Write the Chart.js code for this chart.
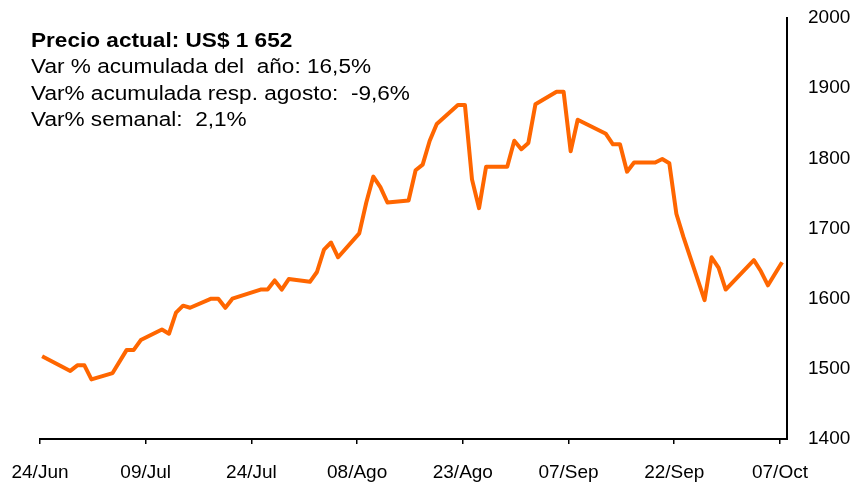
<!DOCTYPE html>
<html>
<head>
<meta charset="utf-8">
<script src="https://cdn.jsdelivr.net/npm/chart.js@4"></script>
<style>
  body { margin: 0; background: #fff; }
  #wrap { width: 855px; height: 485px; }
</style>
</head>
<body>
<div id="wrap"><canvas id="chart" width="855" height="485"></canvas></div>
<script>
// days counted from 24/Jun, gold price in US$
const days = [0, 4, 5, 6, 7, 10, 12, 13, 14, 17, 18, 19, 20, 21, 24, 25, 26, 27, 31, 32, 33, 34, 35,
    38, 39, 40, 41, 42, 45, 46, 47, 48, 49, 52, 53, 54, 55, 56, 59, 60, 61, 62, 63, 66, 67, 68, 69, 70,
    73, 74, 75, 76, 80, 81, 82, 83, 84, 87, 88, 89, 90, 91, 94, 95, 96, 97, 101, 102, 103, 105];
const prices = [1518, 1497, 1505, 1505, 1485, 1494, 1527, 1527, 1541, 1556, 1550, 1580, 1590, 1587, 1600, 1600, 1587, 1600, 1613, 1613, 1626, 1613, 1628,
    1624, 1638, 1670, 1680, 1659, 1693, 1737, 1774, 1759, 1737, 1740, 1783, 1791, 1825, 1849, 1876, 1876, 1770, 1729, 1788, 1788, 1825, 1813, 1822, 1877,
    1895, 1895, 1810, 1855, 1835, 1820, 1820, 1781, 1794, 1794, 1799, 1793, 1721, 1688, 1598, 1659, 1644, 1613, 1655, 1639, 1619, 1652];

const tickDays = [0, 15, 30, 45, 60, 75, 90, 105];
const tickLabels = ['24/Jun', '09/Jul', '24/Jul', '08/Ago', '23/Ago', '07/Sep', '22/Sep', '07/Oct'];

const infoLines = [
    'Precio actual: US$ 1 652',
    'Var % acumulada del  año: 16,5%',
    'Var% acumulada resp. agosto:  -9,6%',
    'Var% semanal:  2,1%'
];

const FONT = '"Liberation Sans", Arial, Helvetica, sans-serif';

const infoPlugin = {
    id: 'info',
    afterDraw(chart) {
        const ctx = chart.ctx;
        ctx.save();
        ctx.fillStyle = '#000';
        ctx.textBaseline = 'alphabetic';
        infoLines.forEach((t, i) => {
            ctx.save();
            ctx.translate(31, 47 + i * 26.3);
            ctx.scale(1.13, 1);
            ctx.font = (i === 0 ? 'bold 20px ' : '20px ') + FONT;
            ctx.fillText(t, 0, 0);
            ctx.restore();
        });
        ctx.restore();
    }
};

new Chart(document.getElementById('chart'), {
    type: 'line',
    data: {
        datasets: [{
            data: days.map((d, i) => ({x: d + 0.3, y: prices[i]})),
            borderColor: '#FF6600',
            borderWidth: 4,
            borderJoinStyle: 'round',
            pointRadius: 0,
            tension: 0,
            fill: false
        }]
    },
    options: {
        responsive: false,
        animation: false,
        layout: {padding: {left: 40, top: 18, right: 0, bottom: 0}},
        plugins: {
            legend: {display: false},
            tooltip: {enabled: false}
        },
        scales: {
            x: {
                type: 'linear',
                min: 0,
                max: 106,
                afterBuildTicks: (scale) => {
                    scale.ticks = tickDays.map(v => ({value: v}));
                },
                afterFit: (scale) => {
                    scale.height = 46;
                    scale.paddingLeft = 0;
                    scale.paddingRight = 0;
                },
                ticks: {
                    autoSkip: false,
                    maxRotation: 0,
                    padding: 17,
                    color: '#000',
                    font: {family: FONT, size: 19},
                    callback: (value, index) => tickLabels[index]
                },
                grid: {
                    display: true,
                    drawOnChartArea: false,
                    drawTicks: true,
                    tickLength: 5,
                    color: '#000',
                    lineWidth: 1.5
                },
                border: {display: true, color: '#000', width: 2}
            },
            y: {
                position: 'right',
                min: 1400,
                max: 2000,
                afterFit: (scale) => {
                    scale.width = 68;
                    scale.paddingTop = 0;
                    scale.paddingBottom = 0;
                },
                ticks: {
                    stepSize: 100,
                    padding: 21,
                    color: '#000',
                    font: {family: FONT, size: 19},
                    callback: (value) => String(value)
                },
                grid: {display: false, drawTicks: false},
                border: {display: true, color: '#000', width: 2}
            }
        }
    },
    plugins: [infoPlugin]
});
</script>
</body>
</html>
